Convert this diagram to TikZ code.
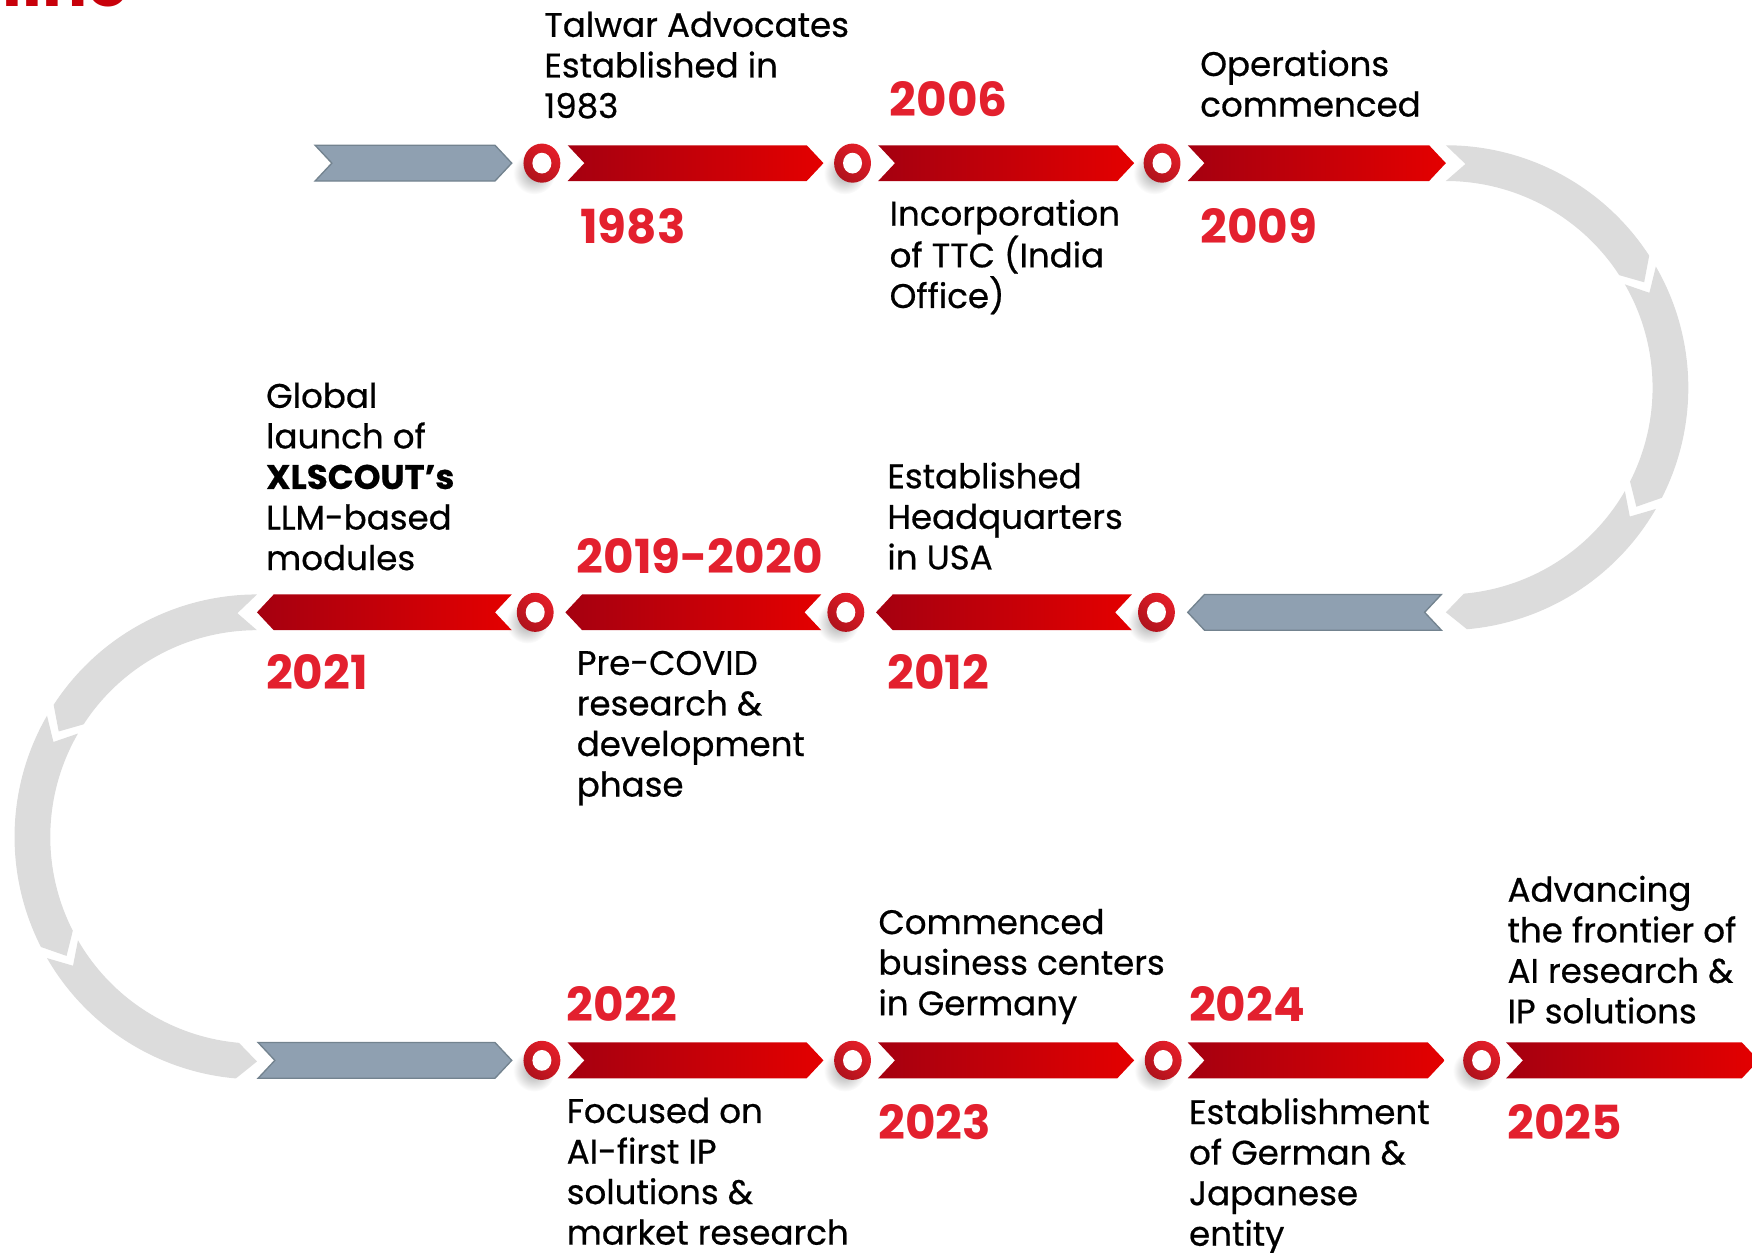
\documentclass[tikz,border=0pt]{standalone}
\usepackage{fontspec}
\setmainfont{Poppins}
\newfontfamily\descfont{Poppins}[FakeBold=0.6]
\usetikzlibrary{calc}
\definecolor{yearred}{HTML}{E3202E}
\definecolor{darkred}{HTML}{A50010}
\definecolor{brightred}{HTML}{E40000}
\definecolor{slate}{HTML}{8FA0B1}
\definecolor{slateedge}{HTML}{73838F}
\definecolor{arcgrey}{HTML}{DCDCDC}
\definecolor{ringred}{HTML}{E41E28}
\definecolor{ringdark}{HTML}{B0121C}
\definecolor{titlered}{HTML}{C8000A}
\tikzset{
  desc/.style={anchor=base west, inner sep=0pt, align=left, font=\descfont\fontsize{30.5}{36.3}\selectfont, text=black},
  yearlbl/.style={anchor=base west, inner sep=0pt, font=\fontsize{42}{44}\selectfont\bfseries, text=yearred},
  redshade/.style={left color=darkred, right color=brightred},
  slatefill/.style={fill=slate, draw=slateedge, line width=1.2pt, line join=miter},
  arcfill/.style={fill=arcgrey},
  ringshade/.style={top color=ringred, middle color=ringred, bottom color=ringdark, shading angle=-40},
  shadowshade/.style={inner color=black!35, outer color=white},
}
\newcommand{\RArrow}[4]{\path[#1] (#2,#4-16) -- (#3-15,#4-16) -- (#3,#4) -- (#3-15,#4+16) -- (#2,#4+16) -- (#2+15,#4) -- cycle;}
\newcommand{\LArrow}[4]{\path[#1] (#2,#4) -- (#2+15,#4-16) -- (#3,#4-16) -- (#3-15,#4) -- (#3,#4+16) -- (#2+15,#4+16) -- cycle;}
\newcommand{\ArcSeg}[5]{%
  \pgfmathsetmacro\tipang{#4+#5}%
  \pgfmathsetmacro\notchang{#3+#5}%
  \fill[arcfill] ($(#1,#2)+(#3:217)$) arc[start angle=#3, end angle=#4, radius=217]
    -- ($(#1,#2)+(\tipang:201)$) -- ($(#1,#2)+(#4:185)$)
    arc[start angle=#4, end angle=#3, radius=185]
    -- ($(#1,#2)+(\notchang:201)$) -- cycle;}
\newcommand{\RingShadow}[2]{\shade[shadowshade] (#1-7,#2+9) circle[radius=19];}
\newcommand{\Ring}[3]{%
  \coordinate (#1) at (#2,#3);
  \shade[ringshade] (#1) ellipse[x radius=16.5, y radius=17.5];
  \fill[white] (#1) ellipse[x radius=8.5, y radius=9.3];}
\begin{document}
\begin{tikzpicture}[x=1pt,y=-1pt]
\useasboundingbox (0,0) rectangle (1568,1121);
\clip (0,0) rectangle (1568,1121);
% cut-off title at the top edge
\node[anchor=base west, inner sep=0pt, font=\fontsize{60}{60}\selectfont\bfseries, text=titlered] (title) at (2,6) {line};
% shadows of the rings
\RingShadow{485}{146}\RingShadow{763}{146}\RingShadow{1040}{146}
\RingShadow{479}{548}\RingShadow{757}{548}\RingShadow{1035}{548}
\RingShadow{485}{949}\RingShadow{763}{949}\RingShadow{1041}{949}\RingShadow{1326}{949}
% curved connectors
\ArcSeg{1294}{347}{-90}{-33}{5}
\ArcSeg{1294}{347}{-30}{27}{5}
\ArcSeg{1294}{347}{30}{85}{5}
\ArcSeg{230}{749}{-90}{-147}{-5}
\ArcSeg{230}{749}{-150}{-207}{-5}
\ArcSeg{230}{749}{-210}{-265}{-5}
% top row
\RArrow{slatefill}{282}{458}{146}
\RArrow{redshade}{508}{737}{146}
\RArrow{redshade}{786}{1015}{146}
\RArrow{redshade}{1063}{1294}{146}
% middle row
\LArrow{redshade}{230}{458}{548}
\LArrow{redshade}{506}{735}{548}
\LArrow{redshade}{784}{1013}{548}
\LArrow{slatefill}{1063}{1290}{548}
% bottom row
\RArrow{slatefill}{231}{458}{949}
\RArrow{redshade}{508}{737}{949}
\RArrow{redshade}{786}{1015}{949}
\RArrow{redshade}{1063}{1293}{949}
\RArrow{redshade}{1348}{1574}{949}
% rings
\Ring{r1}{485}{146}\Ring{r2}{763}{146}\Ring{r3}{1040}{146}
\Ring{r4}{479}{548}\Ring{r5}{757}{548}\Ring{r6}{1035}{548}
\Ring{r7}{485}{949}\Ring{r8}{763}{949}\Ring{r9}{1041}{949}\Ring{r10}{1326}{949}
% texts (anchor = baseline of the last line)
\node[desc] (t1983) at (487,105.6) {Talwar Advocates\\Established in\\1983};
\node[yearlbl] (y2006) at (796,104) {2006};
\node[desc] (t2009) at (1074,104.3) {Operations\\commenced};
\node[yearlbl] (y1983) at (519,218) {1983};
\node[desc] (t2006) at (796,275.6) {Incorporation\\of TTC (India\\Office)};
\node[yearlbl] (y2009) at (1074,218) {2009};
\node[desc] (t2021) at (238,510.2) {Global\\launch of\\\textbf{XLSCOUT’s}\\LLM-based\\modules};
\node[yearlbl] (y2019) at (516,513) {2019-2020};
\node[desc] (t2012) at (794,509.6) {Established\\Headquarters\\in USA};
\node[yearlbl] (y2021) at (238,617) {2021};
\node[desc] (t2019) at (516,712.9) {Pre-COVID\\research \&\\development\\phase};
\node[yearlbl] (y2012) at (794,617) {2012};
\node[yearlbl] (y2022) at (507,914) {2022};
\node[desc] (t2023) at (786,908.6) {Commenced\\business centers\\in Germany};
\node[yearlbl] (y2024) at (1064,914) {2024};
\node[desc] (t2025) at (1349,915.9) {Advancing\\the frontier of\\AI research \&\\IP solutions};
\node[desc] (t2022) at (507,1113.9) {Focused on\\AI-first IP\\solutions \&\\market research};
\node[yearlbl] (y2023) at (786,1020) {2023};
\node[desc] (t2024) at (1064,1114.9) {Establishment\\of German \&\\Japanese\\entity};
\node[yearlbl] (y2025) at (1349,1020) {2025};
\end{tikzpicture}
\end{document}
